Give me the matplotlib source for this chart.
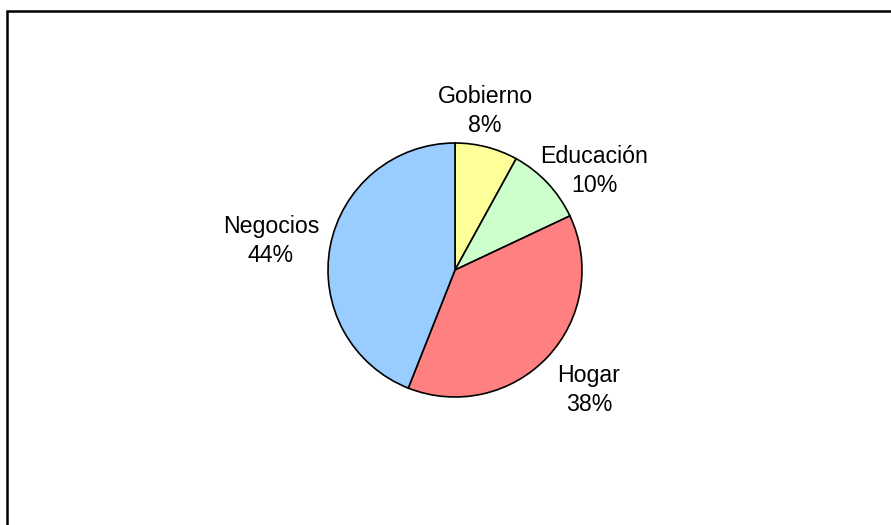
import matplotlib.pyplot as plt
from matplotlib.patches import Rectangle

# Share of each sector (percent), drawn clockwise from 12 o'clock
sectors = ['Gobierno', 'Educación', 'Hogar', 'Negocios']
shares = [8, 10, 38, 44]
colors = ['#FFFF99', '#CCFFCC', '#FF8080', '#99CCFF']

plt.rcParams['font.family'] = ['Liberation Sans', 'DejaVu Sans']

W, H = 891, 525
cx, cy, r = 455, 270, 127  # pie centre / radius in pixels

fig = plt.figure(figsize=(W / 100, H / 100), dpi=100)
ax = fig.add_axes([0, 0, 1, 1])

ax.pie(shares, colors=colors, startangle=90, counterclock=False, radius=1,
       wedgeprops=dict(edgecolor='black', linewidth=1.2))

# one data unit == pie radius
ax.set_xlim(-cx / r, (W - cx) / r)
ax.set_ylim(-(H - cy) / r, cy / r)
ax.set_aspect('auto')
ax.axis('off')

# label anchor points (relative to radius)
label_pos = [(0.236, 1.252), (1.094, 0.78), (1.055, -0.945), (-1.449, 0.228)]
for name, v, (x, y) in zip(sectors, shares, label_pos):
    ax.text(x, y, f'{name}\n{v}%', ha='center', va='center',
            fontsize=16.7, linespacing=1.32, color='black')

# outer chart frame, runs off the right and bottom edges
fig.patches.append(Rectangle((7 / W, -0.05), 1.1, (H - 11) / H + 0.05,
                             transform=fig.transFigure, fill=False,
                             edgecolor='black', linewidth=1.8))

fig.savefig('out.png', dpi=100)
